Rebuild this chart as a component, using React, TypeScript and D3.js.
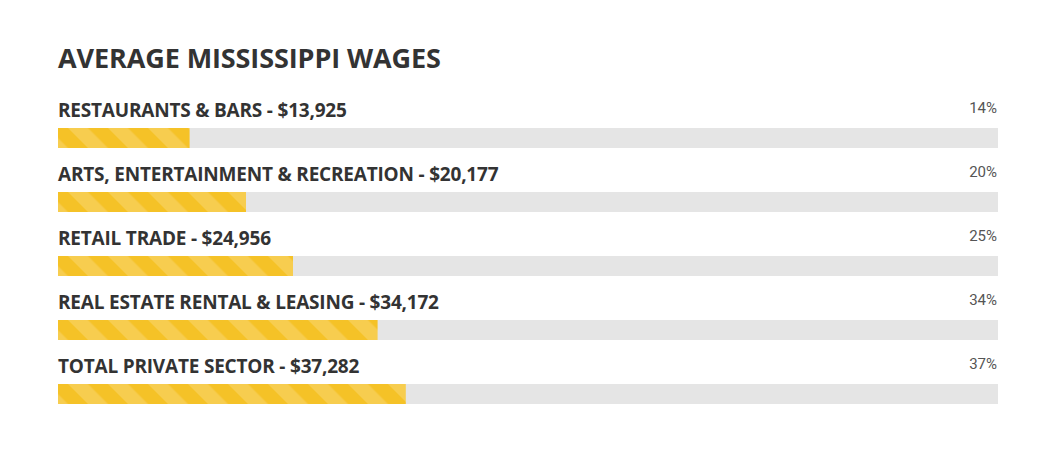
import { useEffect, useRef } from 'react'
import * as d3 from 'd3'

const categories = [
  'RESTAURANTS & BARS',
  'ARTS, ENTERTAINMENT & RECREATION',
  'RETAIL TRADE',
  'REAL ESTATE RENTAL & LEASING',
  'TOTAL PRIVATE SECTOR',
]
const wages = [13925, 20177, 24956, 34172, 37282]
const percents = [14, 20, 25, 34, 37]

const WIDTH = 1057
const HEIGHT = 450
const LEFT = 58
const TRACK_W = 940
const FIRST_TRACK = 128
const ROW_STEP = 64
const BAR_H = 20

export default function App() {
  const svgRef = useRef<SVGSVGElement>(null)

  useEffect(() => {
    if (!svgRef.current) return
    const svg = d3.select(svgRef.current)
    svg.selectAll('*').remove()

    const x = d3.scaleLinear().domain([0, 100]).range([0, TRACK_W])
    const y = d3
      .scaleBand<number>()
      .domain(d3.range(categories.length))
      .range([FIRST_TRACK, FIRST_TRACK + ROW_STEP * categories.length])

    // diagonal stripes, running down to the right
    const defs = svg.append('defs')
    const pat = defs
      .append('pattern')
      .attr('id', 'stripes')
      .attr('patternUnits', 'userSpaceOnUse')
      .attr('width', 28.28)
      .attr('height', 28.28)
      .attr('patternTransform', `translate(${LEFT},${FIRST_TRACK}) rotate(-45)`)
    pat.append('rect').attr('width', 28.28).attr('height', 28.28).attr('fill', '#f5c227')
    pat.append('rect').attr('width', 14.14).attr('height', 28.28).attr('fill', '#f7cd4f')

    svg
      .append('text')
      .attr('x', LEFT)
      .attr('y', 68)
      .attr('font-family', '"Open Sans", sans-serif')
      .attr('font-weight', 700)
      .attr('font-size', 27)
      .attr('letter-spacing', -0.1)
      .attr('fill', '#333333')
      .text('AVERAGE MISSISSIPPI WAGES')

    const fmt = d3.format('$,')

    const rows = svg
      .selectAll('g.row')
      .data(categories)
      .join('g')
      .attr('class', 'row')
      .attr('transform', (_, i) => `translate(${LEFT},${y(i)})`)

    rows
      .append('text')
      .attr('x', 0)
      .attr('y', -11)
      .attr('font-family', '"Open Sans", sans-serif')
      .attr('font-weight', 700)
      .attr('font-size', 19)
      .attr('letter-spacing', -0.2)
      .attr('fill', '#333333')
      .text((d, i) => `${d} - ${fmt(wages[i])}`)

    rows
      .append('text')
      .attr('x', TRACK_W - 1)
      .attr('y', -15)
      .attr('text-anchor', 'end')
      .attr('font-family', 'Roboto, sans-serif')
      .attr('font-size', 15)
      .attr('fill', '#555555')
      .text((_, i) => `${percents[i]}%`)

    rows
      .append('rect')
      .attr('width', x(100))
      .attr('height', BAR_H)
      .attr('fill', '#e5e5e5')

    rows
      .append('rect')
      .attr('width', (_, i) => x(percents[i]))
      .attr('height', BAR_H)
      .attr('fill', 'url(#stripes)')
  }, [])

  return (
    <svg
      ref={svgRef}
      width={WIDTH}
      height={HEIGHT}
      style={{ display: 'block', position: 'absolute', left: 0, top: 0, background: '#fff' }}
    />
  )
}
